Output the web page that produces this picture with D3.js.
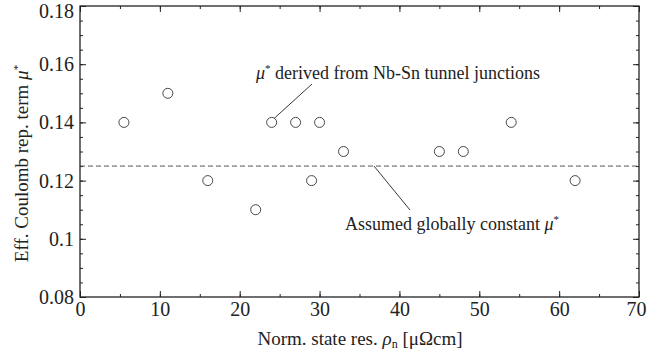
<!DOCTYPE html>
<html>
<head>
<meta charset="utf-8">
<script src="https://cdn.jsdelivr.net/npm/d3@7"></script>
<style>
  html, body { margin: 0; padding: 0; background: #fff; }
  svg { display: block; }
  text { font-family: "Liberation Serif", "Times New Roman", serif; fill: #222; }
</style>
</head>
<body>
<svg id="chart" width="647" height="358"></svg>
<script>
// Normal-state resistivity (µΩcm) of each junction
const resistivity = [5.5, 11, 16, 22, 24, 27, 29, 30, 33, 45, 48, 54, 62];
// Effective Coulomb repulsion term µ* from tunnel junctions
const muStar = [0.14, 0.15, 0.12, 0.11, 0.14, 0.14, 0.12, 0.14, 0.13, 0.13, 0.13, 0.14, 0.12];
// Globally assumed constant µ*
const assumedMu = 0.125;
const xTicks = [0, 10, 20, 30, 40, 50, 60, 70];
const yTicks = [0.08, 0.1, 0.12, 0.14, 0.16, 0.18];
const yTickLabels = ["0.08", "0.1", "0.12", "0.14", "0.16", "0.18"];

const svg = d3.select("#chart");
const m = { left: 80, right: 8, top: 6, bottom: 61 };
const W = 647, H = 358;
const x = d3.scaleLinear().domain([0, 70]).range([m.left, W - m.right]);
const y = d3.scaleLinear().domain([0.08, 0.18]).range([H - m.bottom, m.top]);

const ink = "#222";
const serif = "'Liberation Serif', 'Times New Roman', serif";
const tickFs = 20, titleFs = 19, noteFs = 18;

// Minor tick values
const xMinor = d3.range(0, 70.001, 5);
const yMinor = d3.range(0.08, 0.18001, 0.005);

// Frame
svg.append("rect")
  .attr("x", x(0)).attr("y", y(0.18))
  .attr("width", x(70) - x(0)).attr("height", y(0.08) - y(0.18))
  .attr("fill", "none").attr("stroke", ink).attr("stroke-width", 1.3);

// Inward ticks on all four sides
function ticks(axisFn, scale, vals, size, transform) {
  const g = svg.append("g").attr("transform", transform)
    .call(axisFn(scale).tickValues(vals).tickSize(size).tickFormat(""));
  g.select(".domain").remove();
  g.selectAll(".tick line").attr("stroke", ink).attr("stroke-width", 1);
  return g;
}
ticks(d3.axisTop, x, xMinor, 3, `translate(0,${y(0.08)})`);
ticks(d3.axisTop, x, xTicks, 6, `translate(0,${y(0.08)})`);
ticks(d3.axisBottom, x, xMinor, 3, `translate(0,${y(0.18)})`);
ticks(d3.axisBottom, x, xTicks, 6, `translate(0,${y(0.18)})`);
ticks(d3.axisRight, y, yMinor, 3, `translate(${x(0)},0)`);
ticks(d3.axisRight, y, yTicks, 6, `translate(${x(0)},0)`);
ticks(d3.axisLeft, y, yMinor, 3, `translate(${x(70)},0)`);
ticks(d3.axisLeft, y, yTicks, 6, `translate(${x(70)},0)`);

// Tick labels
const gx = svg.append("g").attr("transform", `translate(0,${y(0.08)})`)
  .call(d3.axisBottom(x).tickValues(xTicks).tickSize(0).tickPadding(5).tickFormat(d3.format("d")));
gx.select(".domain").remove();
gx.attr("font-family", null).attr("font-size", null);
gx.selectAll("text").style("font-size", tickFs + "px").style("font-family", serif).attr("fill", ink)
  .attr("dx", d => d === 70 ? -3 : 0);

const gy = svg.append("g").attr("transform", `translate(${x(0)},0)`)
  .call(d3.axisLeft(y).tickValues(yTicks).tickSize(0).tickPadding(6)
    .tickFormat((d, i) => yTickLabels[i]));
gy.select(".domain").remove();
gy.attr("font-family", null).attr("font-size", null);
gy.selectAll("text").style("font-size", tickFs + "px").style("font-family", serif).attr("fill", ink)
  .attr("dy", d => d === 0.18 ? "0.55em" : "0.32em");

// Dashed reference line
svg.append("line")
  .attr("x1", x(0)).attr("x2", x(70))
  .attr("y1", y(assumedMu)).attr("y2", y(assumedMu))
  .attr("stroke", "#444").attr("stroke-width", 0.9)
  .attr("stroke-dasharray", "5,3");

// Data points
svg.append("g").selectAll("circle")
  .data(resistivity.map((r, i) => [r, muStar[i]]))
  .join("circle")
  .attr("cx", d => x(d[0])).attr("cy", d => y(d[1]))
  .attr("r", 5)
  .attr("fill", "#fff").attr("stroke", "#333").attr("stroke-width", 0.9);

// Annotation: tunnel-junction µ*
svg.append("line")
  .attr("x1", x(24) + 2.5).attr("y1", y(0.14) - 4)
  .attr("x2", 312).attr("y2", 84)
  .attr("stroke", ink).attr("stroke-width", 0.9);
const t1 = svg.append("text").attr("x", 256).attr("y", 79).style("font-size", noteFs + "px");
t1.append("tspan").style("font-style", "italic").text("μ");
t1.append("tspan").attr("dy", -7).style("font-size", "11px").text("*");
t1.append("tspan").attr("dy", 7).text(" derived from Nb-Sn tunnel junctions");

// Annotation: assumed constant µ*
svg.append("line")
  .attr("x1", 374).attr("y1", y(assumedMu))
  .attr("x2", 410).attr("y2", 210)
  .attr("stroke", ink).attr("stroke-width", 0.9);
const t2 = svg.append("text").attr("x", 345).attr("y", 230).style("font-size", noteFs + "px");
t2.append("tspan").text("Assumed globally constant ");
t2.append("tspan").style("font-style", "italic").text("μ");
t2.append("tspan").attr("dy", -7).style("font-size", "11px").text("*");

// X-axis title
const xt = svg.append("text").attr("x", 360).attr("y", 345)
  .attr("text-anchor", "middle").style("font-size", titleFs + "px");
xt.append("tspan").text("Norm. state res. ");
xt.append("tspan").style("font-style", "italic").text("ρ");
xt.append("tspan").attr("dy", 3).style("font-size", "12px").text("n");
xt.append("tspan").attr("dy", -3).text(" [μΩcm]");

// Y-axis title
const yt = svg.append("text")
  .attr("transform", `translate(28,${(y(0.08) + y(0.18)) / 2 + 12}) rotate(-90)`)
  .attr("text-anchor", "middle").style("font-size", titleFs + "px");
yt.append("tspan").text("Eff. Coulomb rep. term ");
yt.append("tspan").style("font-style", "italic").text("μ");
yt.append("tspan").attr("dy", -7).style("font-size", "11px").text("*");
</script>
</body>
</html>
